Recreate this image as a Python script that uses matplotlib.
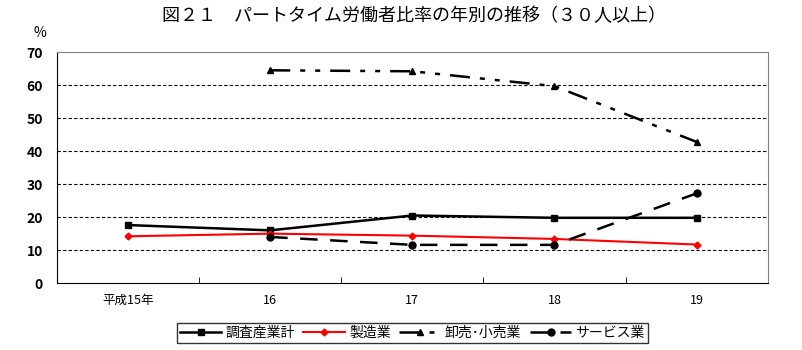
import numpy as np
import matplotlib.pyplot as plt

plt.rcParams['font.family'] = ['Noto Sans CJK JP', 'DejaVu Sans']

# 図21 data (percent)
years = ["平成15年", "16", "17", "18", "19"]
total = [17.6, 16.0, 20.5, 19.8, 19.8]
manufacturing = [14.2, 15.0, 14.4, 13.4, 11.7]
retail = [np.nan, 64.5, 64.2, 59.7, 42.8]
service = [np.nan, 14.0, 11.6, 11.6, 27.2]

fig = plt.figure(figsize=(8.03, 3.5), dpi=100)
ax = fig.add_axes([0.071, 0.191, 0.885, 0.66])

x = np.arange(len(years)) + 0.5

ax.plot(x, total, color="black", lw=1.8, marker="s", ms=5, label="調査産業計")
ax.plot(x, manufacturing, color="red", lw=1.5, marker="D", ms=3.5, label="製造業")
ax.plot(x, retail, color="black", lw=1.8, marker="^", ms=5,
        dashes=(8, 4, 2, 4, 2, 4), label="卸売･小売業")
ax.plot(x, service, color="black", lw=1.8, marker="o", ms=5,
        dashes=(7, 5), label="サービス業")

ax.set_xlim(0, len(years))
ax.set_ylim(0, 70)
ax.set_yticks(range(0, 71, 10))
ax.set_xticks(x)
ax.set_xticklabels(years, fontsize=9)
ax.set_xticks(np.arange(1, len(years)), minor=True)
ax.tick_params(axis="x", which="major", length=0, pad=8)
ax.tick_params(axis="x", which="minor", direction="in", length=4, color="black")
ax.tick_params(axis="y", length=0, labelsize=10, pad=10)
for lbl in ax.get_yticklabels():
    lbl.set_fontweight("bold")

for v in range(10, 70, 10):
    ax.axhline(v, color="black", lw=0.8, dashes=(3, 2), zorder=0)

for s in ["top", "right"]:
    ax.spines[s].set_color("#808080")
ax.spines["left"].set_color("black")
ax.spines["bottom"].set_color("black")

fig.text(0.515, 0.955, "図２１　パートタイム労働者比率の年別の推移（３０人以上）",
         ha="center", va="center", fontsize=13)
fig.text(0.05, 0.905, "%", ha="center", va="center", fontsize=10)

leg = ax.legend(loc="center", bbox_to_anchor=(0.5, -0.215), ncol=4, fontsize=10,
                frameon=True, fancybox=False, edgecolor="black", handlelength=3.0,
                handletextpad=0.3, columnspacing=0.6, borderpad=0.2)
leg.get_frame().set_linewidth(1.0)

fig.savefig("out.png", dpi=100)
